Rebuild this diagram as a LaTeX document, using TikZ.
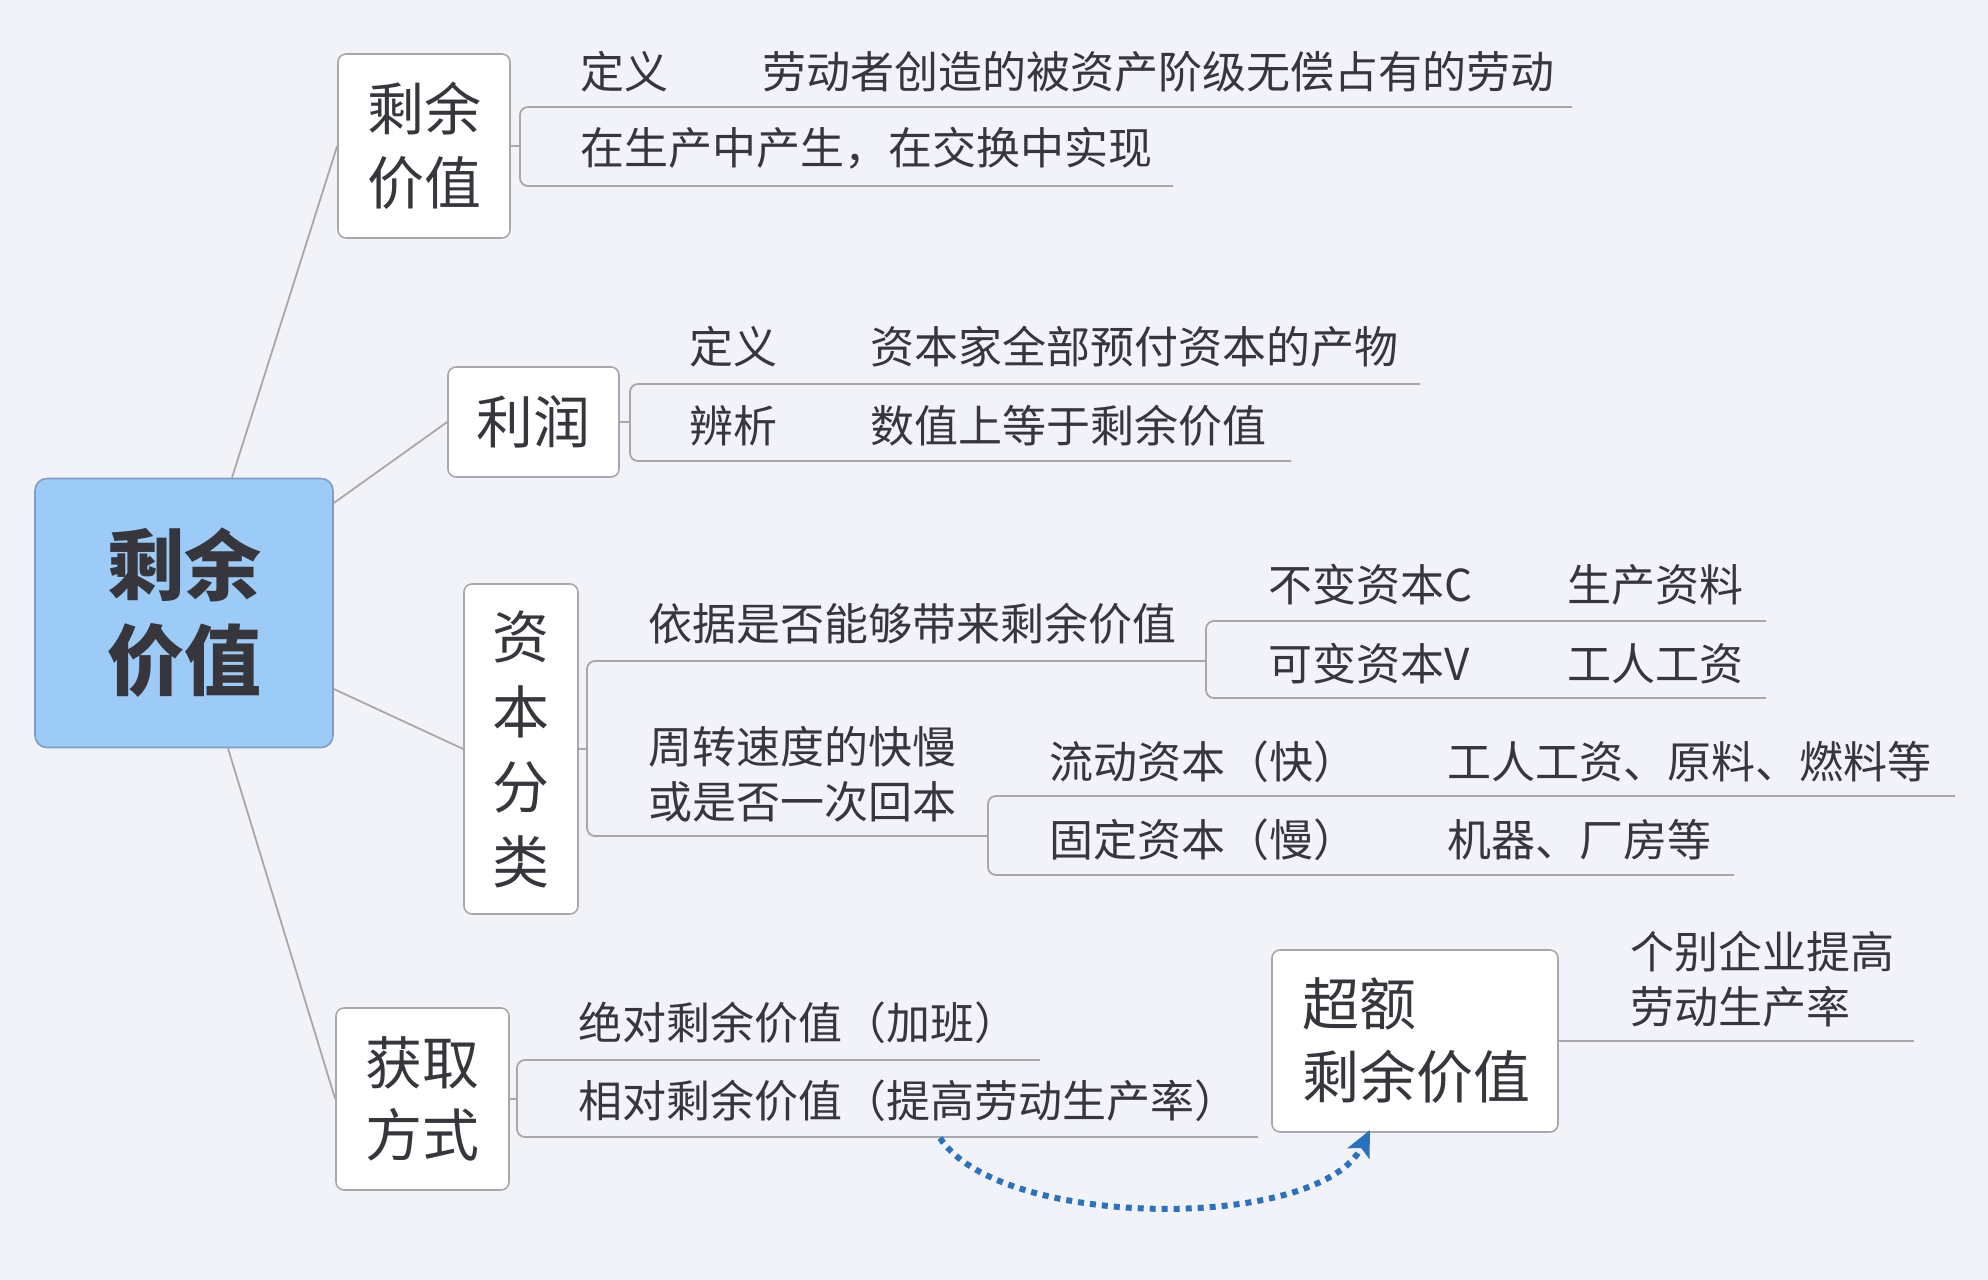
\documentclass[tikz,border=0pt]{standalone}
\usepackage{fontspec}
\newfontfamily\cjk{Noto Sans CJK SC}
\usetikzlibrary{arrows.meta}

\definecolor{bgcol}{HTML}{F2F3F8}
\definecolor{linecol}{HTML}{A8A8AC}
\definecolor{txtcol}{HTML}{36363C}
\definecolor{rootfill}{HTML}{9DCBF7}
\definecolor{rootline}{HTML}{7E9CC4}
\definecolor{arrcol}{HTML}{2A72BE}

\tikzset{
  topicbox/.style={draw=linecol, fill=white, rounded corners=4pt, line width=0.8pt,
    text=txtcol, font=\cjk\fontsize{28.5}{37}\selectfont, align=center, inner sep=0pt},
  rootbox/.style={draw=rootline, fill=rootfill, rounded corners=6pt, line width=0.8pt,
    text=txtcol, font=\cjk\bfseries\fontsize{38.5}{47.5}\selectfont, align=center, inner sep=0pt,
    minimum width=149pt, minimum height=134.5pt},
  leaf/.style={anchor=west, inner sep=0pt, text=txtcol, align=left,
    font=\cjk\fontsize{22}{27.5}\selectfont},
  branch/.style={draw=linecol, line width=0.9pt},
  bracket/.style={draw=linecol, line width=0.9pt, rounded corners=4pt}
}

\begin{document}
\begin{tikzpicture}[x=0.5pt, y=-0.5pt]
  \fill[bgcol] (0,0) rectangle (1988,1280);
  \useasboundingbox (0,0) rectangle (1988,1280);

  % Topics
  \node[rootbox] (root) at (184,613) {剩余\\价值};
  \node[topicbox, minimum width=86pt, minimum height=92pt] (sv) at (424,146) {剩余\\价值};
  \node[topicbox, minimum width=85.5pt, minimum height=55pt] (lr) at (533.5,422) {利润};
  \node[topicbox, minimum width=57pt, minimum height=165pt,
        font=\cjk\fontsize{28.5}{37.5}\selectfont] (zb) at (521,749) {资\\本\\分\\类};
  \node[topicbox, minimum width=86.5pt, minimum height=91pt,
        font=\cjk\fontsize{28.5}{36}\selectfont] (hq) at (422.5,1099) {获取\\方式};
  \node[topicbox, minimum width=143pt, minimum height=91pt, align=left,
        font=\cjk\fontsize{28.5}{36.5}\selectfont] (ce) at (1415,1041)
        {\makebox[113pt][l]{超额}\\\makebox[113pt][l]{剩余价值}};

  % Root branches
  \draw[branch] (root.north -| 232,0) -- (sv.west);
  \draw[branch] (root.east |- 0,503) -- (lr.west);
  \draw[branch] (root.east |- 0,689) -- (zb.west);
  \draw[branch] (root.south -| 228,0) -- (hq.west);

  % Leaves
  \node[leaf] (sv1) at (580,72) {定义};
  \node[leaf] (sv1a) at (762,72) {劳动者创造的被资产阶级无偿占有的劳动};
  \node[leaf] (sv2) at (580,148) {在生产中产生，在交换中实现};

  \node[leaf] (lr1) at (689,347) {定义};
  \node[leaf] (lr1a) at (870,347) {资本家全部预付资本的产物};
  \node[leaf] (lr2) at (689,426) {辨析};
  \node[leaf] (lr2a) at (870,426) {数值上等于剩余价值};

  \node[leaf] (zb1) at (648,624) {依据是否能够带来剩余价值};
  \node[leaf] (zb11) at (1268,585) {不变资本C};
  \node[leaf] (zb11a) at (1567,585) {生产资料};
  \node[leaf] (zb12) at (1268,664) {可变资本V};
  \node[leaf] (zb12a) at (1567,664) {工人工资};
  \node[leaf] (zb2) at (648,774) {周转速度的快慢\\或是否一次回本};
  \node[leaf] (zb21) at (1049,762) {流动资本（快）};
  \node[leaf] (zb21a) at (1447,762) {工人工资、原料、燃料等};
  \node[leaf] (zb22) at (1049,840) {固定资本（慢）};
  \node[leaf] (zb22a) at (1447,840) {机器、厂房等};

  \node[leaf] (hq1) at (578,1023) {绝对剩余价值（加班）};
  \node[leaf] (hq2) at (578,1101) {相对剩余价值（提高劳动生产率）};

  \node[leaf] (ce1) at (1630,979) {个别企业提高\\劳动生产率};

  % Line ends
  \coordinate (sv1e) at (1572,107);
  \coordinate (sv2e) at (1173,186);
  \coordinate (lr1e) at (1420,384);
  \coordinate (lr2e) at (1291,461);
  \coordinate (zb11e) at (1766,621);
  \coordinate (zb12e) at (1766,698);
  \coordinate (zb21e) at (1955,796);
  \coordinate (zb22e) at (1734,875);
  \coordinate (hq1e) at (1040,1060);
  \coordinate (hq2e) at (1258,1137);
  \coordinate (ce1e) at (1914,1041);
  \coordinate (ceTip) at (1370,1130);
  \coordinate (hqStart) at (940,1138);

  % Brackets
  \draw[branch] (sv.east) -- (520,146);
  \draw[bracket] (sv1e) -- (520,107) -- (520,186) -- (sv2e);
  \draw[branch] (lr.east) -- (630,422);
  \draw[bracket] (lr1e) -- (630,384) -- (630,461) -- (lr2e);
  \draw[branch] (zb.east) -- (587,749);
  \draw[bracket] (1206,661) -- (587,661) -- (587,836) -- (988,836);
  \draw[bracket] (zb11e) -- (1206,621) -- (1206,698) -- (zb12e);
  \draw[bracket] (zb21e) -- (988,796) -- (988,875) -- (zb22e);
  \draw[branch] (hq.east) -- (517,1099);
  \draw[bracket] (hq1e) -- (517,1060) -- (517,1137) -- (hq2e);
  \draw[branch] (ce.east) -- (ce1e);

  % Dotted arrow
  \draw[arrcol, line width=3pt, dash pattern=on 3pt off 3pt,
        -{Stealth[length=13pt, width=12pt, inset=3pt]}]
    (hqStart) .. controls (1000,1230) and (1320,1232) .. (ceTip);
\end{tikzpicture}
\end{document}
